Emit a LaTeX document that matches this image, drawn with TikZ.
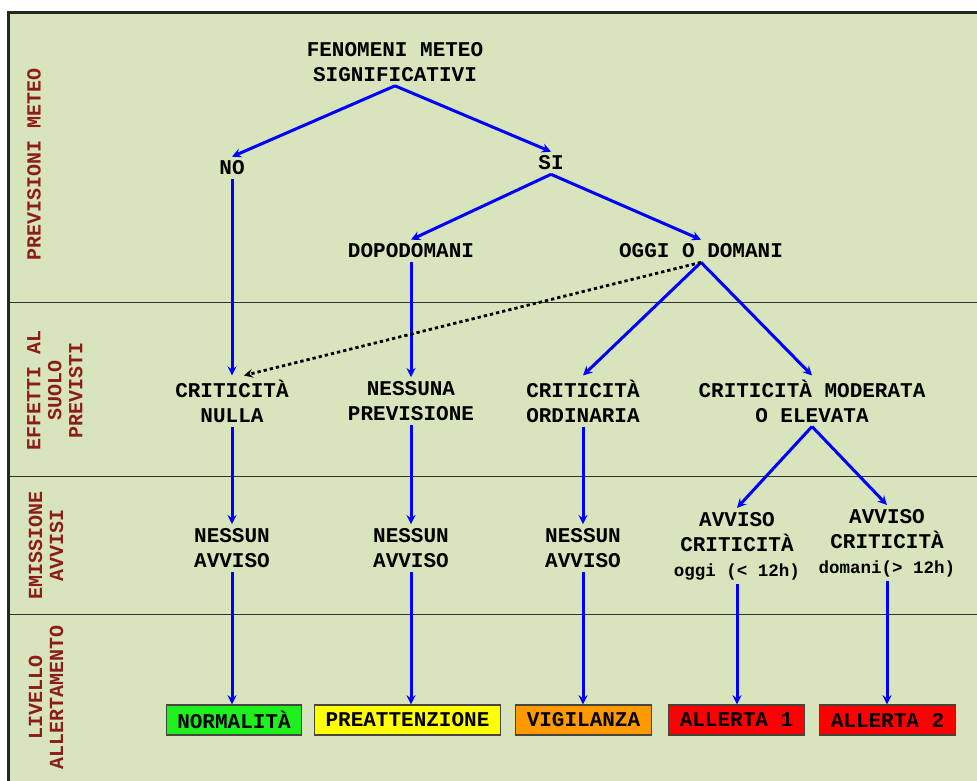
\documentclass[tikz,border=0pt]{standalone}
\usepackage{fontspec}
\setmonofont{Liberation Mono}
\usetikzlibrary{arrows}
\definecolor{sfondo}{RGB}{216,228,188}
\definecolor{bordeaux}{RGB}{140,28,28}
\definecolor{verde}{RGB}{30,240,30}
\definecolor{giallo}{RGB}{255,255,0}
\definecolor{arancio}{RGB}{255,153,0}
\definecolor{rosso}{RGB}{255,0,0}
\definecolor{bordo}{RGB}{70,70,60}
\tikzstyle{testo} = [font=\ttfamily\bfseries\fontsize{21}{25}\selectfont, align=center, inner sep=4pt]
\tikzstyle{fase} = [font=\ttfamily\bfseries\fontsize{20}{21}\selectfont, text=bordeaux, align=center, rotate=90]
\tikzstyle{livello} = [testo, rectangle, draw=bordo, line width=1.3pt, minimum height=30pt, inner xsep=11pt]
\tikzstyle{freccia} = [blue, line width=3pt, ->, >=stealth]
\tikzstyle{salto} = [black, line width=2.8pt, dash pattern=on 3.3pt off 3pt, ->, >=stealth]

\begin{document}
\begin{tikzpicture}[x=1pt, y=-1pt]
            \useasboundingbox (0,0) rectangle (977,781);
            % sfondo e fasce
            \fill [sfondo] (8,13) rectangle (977,781);
            \draw [line width=3pt, black!85] (8,781) -- (8,13) -- (977,13);
            \foreach \y in {302,476,614}
                \draw [line width=1pt, black!80] (9.5,\y) -- (977,\y);
            % fasi
            \node [fase] at (34,164) (meteo) {PREVISIONI METEO};
            \node [fase] at (55,390) (effetti) {EFFETTI AL\\SUOLO\\PREVISTI};
            \node [fase] at (46,545) (emissione) {EMISSIONE\\AVVISI};
            \node [fase] at (46,697) (livello) {LIVELLO\\ALLERTAMENTO};
            % previsioni meteo
            \node [testo] at (395,62) (fenomeni) {FENOMENI METEO\\SIGNIFICATIVI};
            \node [testo] at (232,168) (no) {NO};
            \node [testo] at (551,163) (si) {SI};
            \node [testo] at (411,251) (dopo) {DOPODOMANI};
            \node [testo] at (701,251) (oggi) {OGGI O DOMANI};
            % effetti al suolo
            \node [testo] at (232,401) (nulla) {CRITICITÀ\\NULLA};
            \node [testo] at (411,401) (nessuna) {NESSUNA\\PREVISIONE};
            \node [testo] at (583,401) (ordinaria) {CRITICITÀ\\ORDINARIA};
            \node [testo] at (812,401) (moderata) {CRITICITÀ MODERATA\\O ELEVATA};
            % emissione avvisi
            \node [testo] at (232,548) (avviso1) {NESSUN\\AVVISO};
            \node [testo] at (411,548) (avviso2) {NESSUN\\AVVISO};
            \node [testo] at (583,548) (avviso3) {NESSUN\\AVVISO};
            \node [testo] at (737,546) (avvisooggi) {AVVISO\\CRITICITÀ\\{\fontsize{17.5}{25}\selectfont oggi (< 12h)}};
            \node [testo] at (887,543) (avvisodomani) {AVVISO\\CRITICITÀ\\{\fontsize{17.5}{25}\selectfont domani(> 12h)}};
            % livelli
            \node [livello, fill=verde] at (234,720) (normalita) {NORMALITÀ};
            \node [livello, fill=giallo] at (407.5,720) (preattenzione) {PREATTENZIONE};
            \node [livello, fill=arancio] at (583.5,720) (vigilanza) {VIGILANZA};
            \node [livello, fill=rosso] at (736.5,720) (allerta1) {ALLERTA 1};
            \node [livello, fill=rosso] at (887.5,720) (allerta2) {ALLERTA 2};
            % frecce
            \draw [freccia] (fenomeni.south) -- (no.north);
            \draw [freccia] (fenomeni.south) -- (si.north);
            \draw [freccia] (si.south) -- (dopo.north);
            \draw [freccia] (si.south) -- (oggi.north);
            \draw [freccia] (no.south) -- (nulla.north);
            \draw [freccia] (dopo.south) -- (nessuna.north);
            \draw [freccia] (oggi.south) -- (ordinaria.north);
            \draw [freccia] (oggi.south) -- (moderata.north);
            \draw [salto] (oggi.south) -- ([xshift=12pt]nulla.north);
            \draw [freccia] (nulla.south) -- (avviso1.north);
            \draw [freccia] (nessuna.south) -- (avviso2.north);
            \draw [freccia] (ordinaria.south) -- (avviso3.north);
            \draw [freccia] (moderata.south) -- (avvisooggi.north);
            \draw [freccia] (moderata.south) -- (avvisodomani.north);
            \draw [freccia] (avviso1.south) -- (avviso1.south |- normalita.north);
            \draw [freccia] (avviso2.south) -- (avviso2.south |- preattenzione.north);
            \draw [freccia] (avviso3.south) -- (avviso3.south |- vigilanza.north);
            \draw [freccia] (avvisooggi.south) -- (avvisooggi.south |- allerta1.north);
            \draw [freccia] (avvisodomani.south) -- (avvisodomani.south |- allerta2.north);
\end{tikzpicture}
\end{document}
